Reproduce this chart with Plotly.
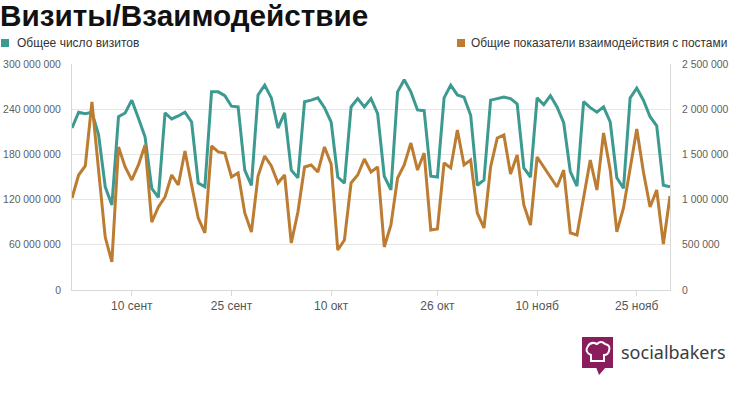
import plotly.graph_objects as go
import pandas as pd

# ---- data ----
start_date = "2014-09-01"

visits_m = [215, 236, 234, 236, 206, 137, 113,
            230, 235, 252, 228, 203, 135, 123,
            235, 227, 231, 236, 223, 142, 137,
            263, 263, 258, 244, 243, 159, 139,
            259, 272, 255, 215, 235, 159, 149,
            250, 252, 255, 242, 223, 150, 142,
            243, 254, 243, 254, 234, 151, 133,
            263, 279, 263, 239, 238, 151, 150,
            255, 272, 259, 256, 232, 139, 146,
            252, 254, 256, 254, 247, 162, 150,
            255, 246, 258, 243, 222, 157, 138,
            250, 242, 236, 243, 223, 149, 135,
            255, 268, 252, 230, 218, 139, 137]

interactions_k = [1018, 1272, 1372, 2080, 1327, 586, 310,
                  1582, 1361, 1217, 1383, 1604, 752, 918,
                  1029, 1272, 1162, 1538, 1162, 796, 631,
                  1593, 1527, 1515, 1250, 1294, 852, 642,
                  1261, 1482, 1372, 1184, 1272, 520, 863,
                  1361, 1383, 1305, 1582, 1394, 442, 553,
                  1184, 1272, 1449, 1305, 1361, 476, 719,
                  1239, 1383, 1626, 1327, 1515, 664, 675,
                  1405, 1350, 1770, 1383, 1438, 852, 686,
                  1361, 1681, 1715, 1283, 1493, 940, 719,
                  1471, 1361, 1250, 1139, 1327, 631, 608,
                  1018, 1438, 1106, 1737, 1327, 642, 907,
                  1350, 1781, 1305, 918, 1106, 509, 1040]

series_names = ["Общее число визитов", "Общие показатели взаимодействия с постами"]
series_colors = ["#3d9a91", "#bc7c31"]

x_tick_dates = ["2014-09-10", "2014-09-25", "2014-10-10", "2014-10-26", "2014-11-10", "2014-11-25"]
x_tick_labels = ["10 сент", "25 сент", "10 окт", "26 окт", "10 нояб", "25 нояб"]

left_tick_vals = [0, 60e6, 120e6, 180e6, 240e6, 300e6]
left_tick_labels = ["0", "60 000 000", "120 000 000", "180 000 000", "240 000 000", "300 000 000"]
right_tick_vals = [0, 500e3, 1000e3, 1500e3, 2000e3, 2500e3]
right_tick_labels = ["0", "500 000", "1 000 000", "1 500 000", "2 000 000", "2 500 000"]

title_text = "Визиты/Взаимодействие"
brand_text = "socialbakers"

# ---- figure ----
W, H = 730, 397
ML, MR, MT, MB = 72, 60, 64, 107
PW, PH = W - ML - MR, H - MT - MB


def px(x):
    return (x - ML) / PW


def py(y):
    return (H - MB - y) / PH


dates = pd.date_range(start_date, periods=len(visits_m), freq="D")
visits = [v * 1e6 for v in visits_m]
interactions = [v * 1e3 for v in interactions_k]

FONT = "Arial, 'Liberation Sans', sans-serif"

fig = go.Figure()
fig.add_trace(go.Scatter(x=dates, y=visits, name=series_names[0], mode="lines",
                         line=dict(color=series_colors[0], width=3), showlegend=False))
fig.add_trace(go.Scatter(x=dates, y=interactions, name=series_names[1], mode="lines",
                         line=dict(color=series_colors[1], width=3), yaxis="y2",
                         showlegend=False))

fig.update_layout(
    width=W, height=H,
    margin=dict(l=ML, r=MR, t=MT, b=MB, pad=0, autoexpand=False),
    paper_bgcolor="white", plot_bgcolor="white",
    font=dict(family=FONT, size=11, color="#606060"),
    title=dict(text=title_text, x=0.0, xref="container", xanchor="left",
               y=1 - 16 / H, yref="container", yanchor="middle",
               font=dict(family=FONT, size=29.7, color="#111111", weight="bold"),
               pad=dict(l=0, r=0, t=0, b=0)),
    xaxis=dict(type="date", range=[dates[0], dates[-1]], automargin=False,
               tickvals=x_tick_dates, ticktext=x_tick_labels,
               showgrid=False, showline=True, linecolor="#d9d9d9", linewidth=1,
               ticks="outside", ticklen=5, tickcolor="#d9d9d9",
               tickfont=dict(size=12, color="#555555"), zeroline=False),
    yaxis=dict(range=[0, 300e6], tickvals=left_tick_vals, ticktext=left_tick_labels,
               automargin=False,
               showgrid=True, gridcolor="#e6e6e6", gridwidth=1,
               showline=True, linecolor="#d9d9d9", linewidth=1, zeroline=False,
               ticks="", ticklabelstandoff=8,
               tickfont=dict(size=10.4, color="#606060")),
    yaxis2=dict(range=[0, 2.5e6], tickvals=right_tick_vals, ticktext=right_tick_labels,
                automargin=False,
                overlaying="y", side="right", showgrid=False,
                showline=True, linecolor="#d9d9d9", linewidth=1, zeroline=False,
                ticks="", ticklabelstandoff=9,
                tickfont=dict(size=10.4, color="#606060")),
    showlegend=False,
)

# custom legend (square swatches + labels)
legend_y = 43
swatch = 8
fig.add_shape(type="rect", xref="paper", yref="paper",
              x0=px(1), x1=px(1 + swatch), y0=py(legend_y + swatch / 2), y1=py(legend_y - swatch / 2),
              fillcolor=series_colors[0], line=dict(width=0))
fig.add_annotation(text=series_names[0], xref="paper", yref="paper", x=px(15), y=py(legend_y),
                   xanchor="left", yanchor="middle", showarrow=False,
                   font=dict(family=FONT, size=12, color="#333333"))
fig.add_shape(type="rect", xref="paper", yref="paper",
              x0=px(457), x1=px(457 + swatch), y0=py(legend_y + swatch / 2), y1=py(legend_y - swatch / 2),
              fillcolor=series_colors[1], line=dict(width=0))
fig.add_annotation(text=series_names[1], xref="paper", yref="paper", x=px(729), y=py(legend_y),
                   xanchor="right", yanchor="middle", showarrow=False,
                   font=dict(family=FONT, size=11.9, color="#333333"))

# socialbakers logo
icon_color = "#8a1d5c"
fig.add_shape(type="rect", xref="paper", yref="paper",
              x0=px(582), x1=px(613), y0=py(368), y1=py(337),
              fillcolor=icon_color, line=dict(width=0))
tail = "M {} {} L {} {} L {} {} Z".format(px(596), py(367), px(606), py(367), px(599), py(375))
fig.add_shape(type="path", xref="paper", yref="paper", path=tail,
              fillcolor=icon_color, line=dict(width=0))
hat = ("M {a} {b} Q {c} {d} {e} {f} Q {g} {h} {i} {j} Q {k} {l} {m} {n} "
       "Q {o} {p} {q} {r} Q {s} {t} {u} {v} L {u} {w} L {a} {w} Z").format(
    a=px(591), b=py(355),
    c=px(584), d=py(352), e=px(588), f=py(346),
    g=px(591), h=py(341), i=px(597), j=py(344),
    k=px(601), l=py(340), m=px(605), n=py(344),
    o=px(611), p=py(345), q=px(609), r=py(351),
    s=px(608), t=py(355), u=px(604), v=py(355), w=py(361))
fig.add_shape(type="path", xref="paper", yref="paper", path=hat,
              fillcolor="rgba(0,0,0,0)", line=dict(color="white", width=2))
fig.add_annotation(text=brand_text, xref="paper", yref="paper", x=px(728), y=py(352),
                   xanchor="right", yanchor="middle", showarrow=False,
                   font=dict(family="'Noto Sans', 'Open Sans', sans-serif", size=18, color="#3c3c3c"))

fig.write_html("out.html", config={"displayModeBar": False},
               post_script="document.body.style.margin='0';")
